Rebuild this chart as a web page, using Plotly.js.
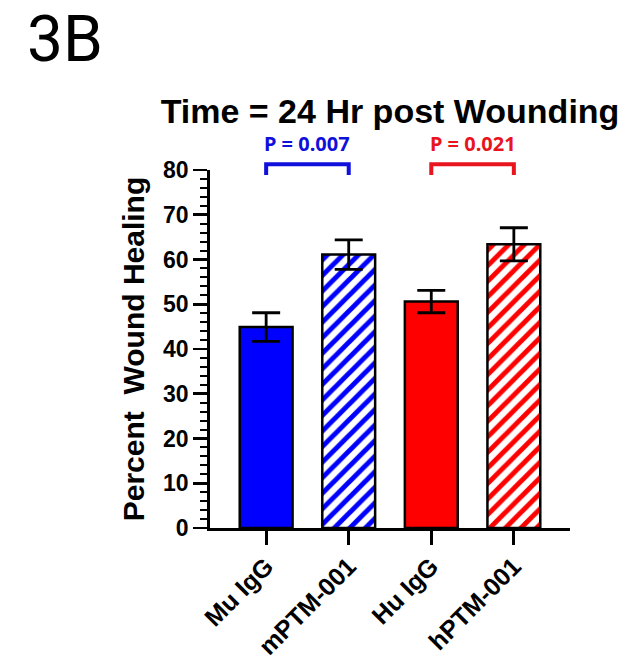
<!DOCTYPE html>
<html>
<head>
<meta charset="utf-8">
<script src="https://cdn.plot.ly/plotly-3.0.1.min.js"></script>
<style>html,body{margin:0;padding:0;background:#fff;}#chart{width:639px;height:661px;}</style>
</head>
<body>
<div id="chart"></div>
<script>
// ---- data ----
const categories = ['Mu IgG', 'mPTM-001', 'Hu IgG', 'hPTM-001'];
const means = [44.9, 61.1, 50.6, 63.4];
const sems = [3.2, 3.3, 2.5, 3.7];
const barColors = ['#0000ff', '#0000ff', '#ff0000', '#ff0000'];
const hatch = ['', '/', '', '/'];
const comparisons = [[0, 1], [2, 3]];
const pLabels = ['P = 0.007', 'P = 0.021'];
const compColors = ['#1010dc', '#e8141e'];
const yTicks = [0, 10, 20, 30, 40, 50, 60, 70, 80];

const FONT = 'Liberation Sans, Arial, sans-serif';
const yMax = 80;
const bracketTop = 81.3, bracketBottom = 78.9, pTextY = 86;

const trace = {
  type: 'bar',
  x: categories,
  y: means,
  width: 0.64,
  marker: {
    color: barColors,
    line: {color: '#000', width: 2.5},
    pattern: {shape: hatch, fgcolor: '#ffffff', bgcolor: barColors, fgopacity: 1, size: 11, solidity: 0.45, fillmode: 'replace'}
  },
  error_y: {type: 'data', array: sems, visible: true, color: '#000', thickness: 2.8, width: 14},
  hoverinfo: 'none'
};

const shapes = comparisons.map((c, i) => ({
  type: 'path', xref: 'x', yref: 'paper',
  path: `M ${c[0]},${bracketBottom / yMax} L ${c[0]},${bracketTop / yMax} L ${c[1]},${bracketTop / yMax} L ${c[1]},${bracketBottom / yMax}`,
  line: {color: compColors[i], width: 4}
}));

const annotations = comparisons.map((c, i) => ({
  xref: 'x', yref: 'paper', x: (c[0] + c[1]) / 2, y: pTextY / yMax,
  text: pLabels[i], showarrow: false, xanchor: 'center', yanchor: 'middle',
  font: {family: 'Noto Sans, sans-serif', size: 20, weight: 'bold', color: compColors[i]}
}));
annotations.push({
  xref: 'paper', yref: 'paper', x: -0.514, y: 1.475, xanchor: 'left', yanchor: 'top',
  text: '3B', showarrow: false,
  font: {family: 'Roboto, sans-serif', size: 64, color: '#000'}
});

const layout = {
  width: 639, height: 661,
  margin: {l: 210, r: 69, t: 170, b: 133},
  paper_bgcolor: '#fff', plot_bgcolor: '#fff',
  showlegend: false,
  title: {
    text: 'Time = 24 Hr post Wounding',
    font: {family: FONT, size: 34, weight: 'bold', color: '#000'},
    xref: 'paper', x: 0.5, xanchor: 'center',
    yref: 'container', y: 1 - 111 / 661, yanchor: 'middle'
  },
  xaxis: {
    range: [-0.68, 3.68],
    showline: true, linecolor: '#000', linewidth: 2.8,
    ticks: 'outside', ticklen: 14, tickwidth: 2.8, tickcolor: '#000',
    tickangle: -45, ticklabelstandoff: -3,
    tickfont: {family: FONT, size: 25, weight: 'bold', color: '#000'},
    showgrid: false, zeroline: false, fixedrange: true
  },
  yaxis: {
    range: [0, yMax],
    tickvals: yTicks, ticktext: yTicks.map(String),
    showline: true, linecolor: '#000', linewidth: 2.8,
    ticks: 'outside', ticklen: 14, tickwidth: 2.8, tickcolor: '#000',
    tickfont: {family: FONT, size: 23, weight: 'bold', color: '#000'},
    minor: {dtick: 2, ticks: 'outside', ticklen: 7, tickwidth: 2, tickcolor: '#000', showgrid: false},
    showgrid: false, zeroline: false, fixedrange: true,
    title: {text: 'Percent&nbsp; Wound Healing', font: {family: FONT, size: 30, weight: 'bold', color: '#000'}, standoff: 10}
  },
  shapes: shapes,
  annotations: annotations
};

Plotly.newPlot('chart', [trace], layout, {displayModeBar: false, staticPlot: true});
</script>
</body>
</html>
